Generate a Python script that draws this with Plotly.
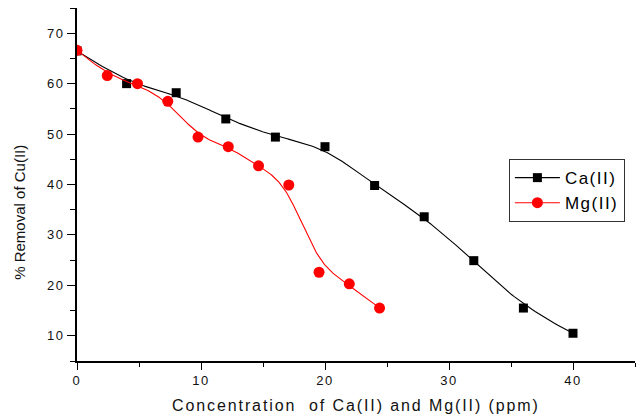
import numpy as np
import plotly.graph_objects as go

# ---- data ----
ca_x = [0, 4, 8, 12, 16, 20, 24, 28, 32, 36, 40]
ca_y = [66.5, 60.0, 58.2, 53.0, 49.4, 47.5, 39.8, 33.6, 24.9, 15.5, 10.5]
mg_x = [0, 2.44, 4.88, 7.32, 9.76, 12.2, 14.64, 17.08, 19.52, 21.96, 24.4]
mg_y = [66.6, 61.6, 60.0, 56.5, 49.4, 47.5, 43.7, 39.9, 22.6, 20.3, 15.5]
series_names = ["Ca(II)", "Mg(II)"]
x_ticks = [0, 10, 20, 30, 40]
x_tick_labels = ["0", "10", "20", "30", "40"]
y_ticks = [10, 20, 30, 40, 50, 60, 70]
y_tick_labels = ["10", "20", "30", "40", "50", "60", "70"]
x_title = "Concentration  of Ca(II) and Mg(II) (ppm)"
y_title = "% Removal of Cu(II)"


def spaced(s, px):
    """Real text, with letter spacing like the original."""
    return '<span style="letter-spacing:%.1fpx">%s</span>' % (px, s.replace("  ", "&nbsp; "))


def bspline(xs, ys, k=3, n=300):
    """Clamped uniform B-spline using the data points as control points."""
    P = np.column_stack([xs, ys]).astype(float)
    m = len(P)
    knots = np.concatenate([np.zeros(k), np.arange(m - k + 1), np.full(k, m - k)]).astype(float)
    t = np.linspace(0, m - k, n)
    nb = len(knots) - 1
    N = np.zeros((n, nb))
    for i in range(nb):
        N[:, i] = (knots[i] <= t) & (t < knots[i + 1])
    last = max(i for i in range(nb) if knots[i] < knots[i + 1])
    N[t == knots[-1], last] = 1.0
    for d in range(1, k + 1):
        Nn = np.zeros((n, nb - d))
        for i in range(nb - d):
            a = knots[i + d] - knots[i]
            b = knots[i + d + 1] - knots[i + 1]
            term = np.zeros(n)
            if a > 0:
                term += (t - knots[i]) / a * N[:, i]
            if b > 0:
                term += (knots[i + d + 1] - t) / b * N[:, i + 1]
            Nn[:, i] = term
        N = Nn
    C = N @ P
    return C[:, 0], C[:, 1]


fig = go.Figure()

for xs, ys, name, color, sym, size in [
    (ca_x, ca_y, series_names[0], "black", "square", 9),
    (mg_x, mg_y, series_names[1], "#ff0000", "circle", 11),
]:
    cx, cy = bspline(xs, ys)
    fig.add_trace(go.Scatter(x=cx, y=cy, mode="lines",
                             line=dict(color=color, width=1.1),
                             showlegend=False, hoverinfo="skip"))
    fig.add_trace(go.Scatter(x=xs, y=ys, mode="markers",
                             marker=dict(symbol=sym, size=size, color=color),
                             showlegend=False, name=name))
    fig.add_trace(go.Scatter(x=[None], y=[None], mode="lines+markers",
                             name=spaced(name, 1.5),
                             line=dict(color=color, width=1.1),
                             marker=dict(symbol=sym, size=size, color=color)))

font_family = "Liberation Sans, Arial, sans-serif"

# page body has an 8px margin, so the figure is drawn 8px smaller and offset
fig.update_layout(
    width=636, height=411,
    margin=dict(l=69, r=9, t=0, b=58, autoexpand=False),
    paper_bgcolor="white", plot_bgcolor="white",
    font=dict(family=font_family, color="#111111", size=13),
    showlegend=True,
    legend=dict(x=0.774, y=0.572, xanchor="left", yanchor="top",
                bgcolor="white", bordercolor="#333333", borderwidth=1,
                font=dict(size=17, family=font_family, color="black"),
                itemwidth=45, tracegroupgap=0),
)

fig.update_xaxes(range=[0, 45], showline=True, linecolor="black", linewidth=1.6,
                 ticks="outside", tickcolor="black", ticklen=7, tickwidth=1.4,
                 tickvals=x_ticks, ticktext=[spaced(s, 1.6) for s in x_tick_labels],
                 minor=dict(tickvals=[5, 15, 25, 35, 45], ticks="outside", ticklen=4,
                            tickwidth=1.4, tickcolor="black"),
                 showgrid=False, zeroline=False, mirror=False,
                 tickfont=dict(size=13))
fig.update_yaxes(range=[5, 75], showline=True, linecolor="black", linewidth=1.6,
                 ticks="outside", tickcolor="black", ticklen=8, tickwidth=1.4,
                 tickvals=y_ticks, ticktext=[spaced(s, 1.6) for s in y_tick_labels],
                 minor=dict(tickvals=[5, 15, 25, 35, 45, 55, 65, 75], ticks="outside",
                            ticklen=5, tickwidth=1.4, tickcolor="black"),
                 showgrid=False, zeroline=False, mirror=False,
                 tickfont=dict(size=13))

fig.add_annotation(text=spaced(x_title, 1.9), xref="paper", yref="paper", x=0.5, y=-0.125,
                   xanchor="center", yanchor="middle", showarrow=False,
                   font=dict(size=16, family=font_family, color="#111111"))
fig.add_annotation(text=y_title, xref="paper", yref="paper", x=-0.102, y=0.42,
                   xanchor="center", yanchor="middle", showarrow=False, textangle=-90,
                   font=dict(size=15, family=font_family, color="#111111"))

fig.write_html("out.html")
